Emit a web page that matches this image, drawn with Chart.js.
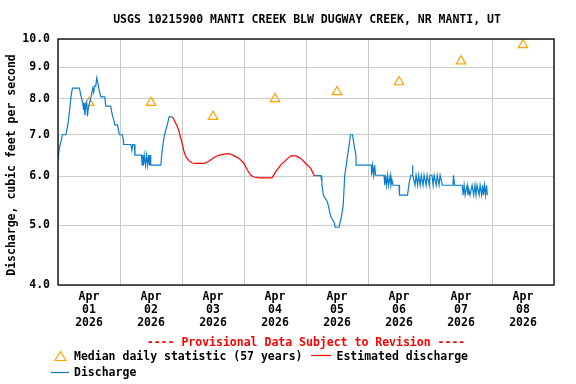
<!DOCTYPE html>
<html>
<head>
<meta charset="utf-8">
<script src="https://cdn.jsdelivr.net/npm/chart.js@4"></script>
<style>
  html, body { margin: 0; padding: 0; background: #fff; }
</style>
</head>
<body>
<canvas id="chart" width="576" height="384"></canvas>
<script>
// x values are hours since Apr 01 2026 00:00, y values are cfs
const dayLabels = ['01', '02', '03', '04', '05', '06', '07', '08'];
const yTickValues = [4, 5, 6, 7, 8, 9, 10];

const medianHours = [12, 36, 60, 84, 108, 132, 156, 180];
const medianValues = [7.89, 7.89, 7.49, 8.0, 8.21, 8.52, 9.21, 9.78];

const dischargeHours1 = [0.0, 0.4, 0.8, 1.3, 1.7, 3.0, 3.4, 3.8, 4.2, 4.6, 5.0, 5.3, 5.6, 8.3, 8.6, 9.1, 9.6, 9.9, 10.1, 10.4,
  10.7, 11.1, 11.4, 11.8, 12.2, 12.7, 13.1, 13.5, 13.8, 14.1, 14.6, 15.0, 15.4, 15.8, 16.2, 16.6, 18.1, 18.5, 20.4, 20.8,
  21.2, 21.6, 22.0, 23.0, 23.4, 23.8, 24.9, 25.3, 25.4, 28.2, 28.6, 28.9, 29.5, 29.8, 32.3, 32.6, 32.8, 33.1, 33.4, 33.9,
  34.3, 34.7, 35.1, 35.4, 35.7, 35.9, 39.8, 40.2, 40.6, 41.1, 41.7, 42.3, 43.0, 44.3];
const dischargeValues1 = [6.37, 6.61, 6.74, 6.86, 7.0, 7.0, 7.12, 7.26, 7.48, 7.76, 8.03, 8.2, 8.33, 8.33, 8.2, 8.03, 7.88, 7.68, 7.88, 7.53,
  7.76, 7.88, 7.5, 7.76, 7.88, 8.03, 8.2, 8.33, 8.2, 8.39, 8.39, 8.65, 8.49, 8.33, 8.17, 8.06, 8.06, 7.79, 7.79, 7.62,
  7.48, 7.4, 7.26, 7.26, 7.12, 7.0, 7.0, 6.86, 6.75, 6.75, 6.61, 6.75, 6.75, 6.49, 6.49, 6.25, 6.49, 6.25, 6.49, 6.25,
  6.49, 6.25, 6.49, 6.25, 6.49, 6.25, 6.25, 6.53, 6.74, 6.95, 7.12, 7.26, 7.48, 7.48];

const estimatedHours = [44.3, 44.9, 45.6, 46.2, 46.9, 47.5, 48.2, 48.8, 49.5, 50.7, 52.0, 53.3, 56.6, 58.5, 60.4, 62.4, 65.0, 66.5,
  68.2, 70.1, 72.0, 73.3, 74.6, 75.9, 77.9, 82.8, 84.3, 86.2, 88.2, 90.1, 92.1, 94.0, 95.9, 97.9, 99.1, 99.5];
const estimatedValues = [7.48, 7.4, 7.3, 7.21, 7.08, 6.91, 6.74, 6.57, 6.45, 6.35, 6.3, 6.29, 6.29, 6.35, 6.43, 6.49, 6.52, 6.52,
  6.47, 6.41, 6.29, 6.14, 6.02, 5.98, 5.96, 5.96, 6.1, 6.25, 6.37, 6.47, 6.47, 6.41, 6.29, 6.17, 6.02, 6.01];

const dischargeHours2 = [99.5, 101.8, 102.0, 102.1, 102.2, 102.7, 104.3, 104.9, 105.6, 106.9, 107.3, 108.8, 109.2, 109.7, 110.4,
  111.0, 111.6, 112.0, 112.3, 112.7, 113.2, 114.0, 114.6, 115.3, 115.4, 121.3, 121.4, 121.8, 122.2, 122.6, 122.9, 126.2,
  126.5, 126.8, 127.2, 127.6, 128.0, 128.6, 128.9, 129.3, 129.7, 132.0, 132.2, 135.3, 135.9, 136.6, 137.1, 137.2, 137.4,
  138.2, 138.6, 139.2, 139.6, 140.2, 140.6, 141.3, 141.7, 142.5, 142.9, 143.7, 144.0, 144.8, 145.2, 145.6, 146.4, 146.8,
  147.5, 147.9, 148.8, 152.9, 153.1, 153.5, 156.5, 156.8, 157.2, 157.6, 158.4, 158.7, 159.1, 159.5, 160.3, 160.9, 161.4,
  161.8, 162.2, 163.0, 163.4, 164.0, 164.4, 164.7, 165.1, 165.5, 165.9, 166.2];
const dischargeValues2 = [6.01, 6.01, 5.91, 6.01, 5.8, 5.59, 5.45, 5.31, 5.16, 5.05, 4.96, 4.96, 5.05, 5.16, 5.38,
  6.02, 6.25, 6.45, 6.56, 6.74, 7.0, 7.0, 6.74, 6.49, 6.25, 6.25, 6.02, 6.25, 6.02, 6.25, 6.02, 6.02,
  5.8, 6.02, 5.8, 6.02, 5.8, 6.02, 5.8, 5.91, 5.8, 5.8, 5.59, 5.59, 5.84, 6.02, 6.02, 6.25, 6.02,
  5.8, 6.02, 5.8, 6.02, 5.8, 6.02, 5.8, 6.02, 5.8, 6.02, 5.8, 6.02, 6.02, 5.8, 6.02, 5.8, 6.02,
  5.8, 6.02, 5.8, 5.8, 6.02, 5.8, 5.8, 5.59, 5.8, 5.59, 5.8, 5.59, 5.7, 5.59, 5.8, 5.59, 5.8,
  5.59, 5.8, 5.59, 5.8, 5.59, 5.8, 5.59, 5.8, 5.59, 5.8, 5.59];

const BLUE = '#0a7dce';
const RED = '#ff0000';
const ORANGE = '#ffa500';
const GRID = '#cccccc';
const FONT_FAMILY = '"DejaVu Sans Mono", "Liberation Mono", monospace';
const FONT = 'bold 11.5px ' + FONT_FAMILY;

const toPoints = (xs, ys) => xs.map((x, i) => ({ x: x, y: ys[i] }));

const lineStyle = (color) => ({
  type: 'line',
  borderColor: color,
  borderWidth: 1.2,
  pointRadius: 0,
  tension: 0,
  fill: false
});

const framePlugin = {
  id: 'frame',
  afterDraw(chart) {
    const { ctx, chartArea: a } = chart;
    ctx.save();
    ctx.strokeStyle = '#000';
    ctx.lineWidth = 1.3;
    ctx.strokeRect(a.left, a.top, a.right - a.left, a.bottom - a.top);

    ctx.font = FONT;
    ctx.fillStyle = '#000';
    ctx.textBaseline = 'middle';
    ctx.textAlign = 'center';
    ctx.fillText('USGS 10215900 MANTI CREEK BLW DUGWAY CREEK, NR MANTI, UT', 307, 20);

    ctx.save();
    ctx.translate(12, 165);
    ctx.rotate(-Math.PI / 2);
    ctx.fillText('Discharge, cubic feet per second', 0, 0);
    ctx.restore();

    ctx.fillStyle = RED;
    ctx.fillText('---- Provisional Data Subject to Revision ----', 306, 343);

    // legend
    ctx.textAlign = 'left';
    ctx.fillStyle = '#000';
    ctx.fillText('Median daily statistic (57 years)', 74, 357);
    ctx.fillText('Estimated discharge', 336.5, 357);
    ctx.fillText('Discharge', 74, 373);

    ctx.strokeStyle = ORANGE;
    ctx.lineWidth = 1.2;
    ctx.beginPath();
    ctx.moveTo(60.5, 351.5);
    ctx.lineTo(66, 360.5);
    ctx.lineTo(55, 360.5);
    ctx.closePath();
    ctx.stroke();

    ctx.strokeStyle = RED;
    ctx.beginPath();
    ctx.moveTo(311, 355.5);
    ctx.lineTo(331, 355.5);
    ctx.stroke();

    ctx.strokeStyle = BLUE;
    ctx.beginPath();
    ctx.moveTo(51, 372.5);
    ctx.lineTo(69, 372.5);
    ctx.stroke();
    ctx.restore();
  }
};

const tickFont = { family: FONT_FAMILY, weight: 'bold', size: 11.5, lineHeight: '13px' };

new Chart(document.getElementById('chart'), {
  data: {
    datasets: [
      Object.assign(lineStyle(BLUE), { label: 'Discharge', data: toPoints(dischargeHours1, dischargeValues1) }),
      Object.assign(lineStyle(RED), { label: 'Estimated discharge', data: toPoints(estimatedHours, estimatedValues) }),
      Object.assign(lineStyle(BLUE), { label: 'Discharge', data: toPoints(dischargeHours2, dischargeValues2) }),
      {
        type: 'scatter',
        label: 'Median daily statistic (57 years)',
        data: toPoints(medianHours, medianValues),
        pointStyle: 'triangle',
        pointRadius: 5.5,
        borderColor: ORANGE,
        backgroundColor: 'rgba(0,0,0,0)',
        borderWidth: 1.2
      }
    ]
  },
  options: {
    responsive: false,
    animation: false,
    devicePixelRatio: 1,
    layout: { padding: { top: 39, right: 22, left: 0, bottom: 0 } },
    plugins: { legend: { display: false }, tooltip: { enabled: false }, title: { display: false } },
    scales: {
      x: {
        type: 'linear',
        min: 0,
        max: 192,
        afterBuildTicks: (scale) => {
          const ticks = [];
          for (let h = 0; h <= 192; h += 12) ticks.push({ value: h });
          scale.ticks = ticks;
        },
        afterFit: (scale) => { scale.height = 99; },
        ticks: {
          autoSkip: false,
          maxRotation: 0,
          padding: 6,
          color: '#000',
          font: tickFont,
          callback: (v) => (v % 24 === 12 ? ['Apr', dayLabels[(v - 12) / 24], '2026'] : '')
        },
        grid: {
          drawTicks: false,
          lineWidth: 1,
          color: (ctx) => (ctx.tick && ctx.tick.value % 24 === 0 ? GRID : 'rgba(0,0,0,0)')
        },
        border: { display: false }
      },
      y: {
        type: 'logarithmic',
        min: 4,
        max: 10,
        afterBuildTicks: (scale) => { scale.ticks = yTickValues.map(v => ({ value: v })); },
        afterFit: (scale) => { scale.width = 58; },
        ticks: {
          padding: 8,
          color: '#000',
          font: tickFont,
          callback: (v) => Number(v).toFixed(1)
        },
        grid: { drawTicks: false, color: GRID, lineWidth: 1 },
        border: { display: false }
      }
    }
  },
  plugins: [framePlugin]
});
</script>
</body>
</html>
